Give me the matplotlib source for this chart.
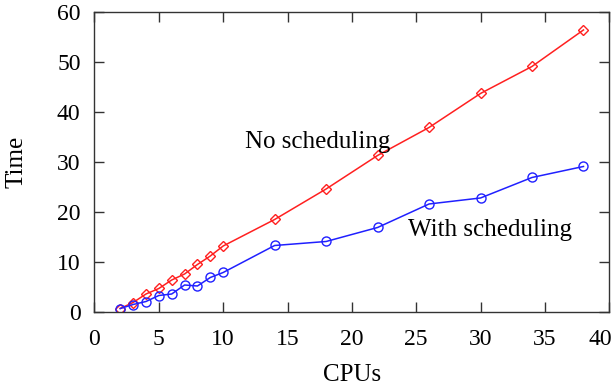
import matplotlib
matplotlib.use("Agg")
import matplotlib.pyplot as plt
from matplotlib.transforms import ScaledTranslation

cpus = [2, 3, 4, 5, 6, 7, 8, 9, 10, 14, 18, 22, 26, 30, 34, 38]
no_sched = [0.7, 1.9, 3.6, 4.7, 6.4, 7.6, 9.5, 11.2, 13.2, 18.5, 24.6, 31.3, 36.9, 43.7, 49.1, 56.4]
with_sched = [0.7, 1.5, 2.1, 3.3, 3.6, 5.4, 5.2, 6.9, 7.9, 13.3, 14.1, 16.9, 21.6, 22.8, 26.9, 29.1]
xticks = [0, 5, 10, 15, 20, 25, 30, 35, 40]
yticks = [0, 10, 20, 30, 40, 50, 60]

plt.rcParams['font.family'] = ['Liberation Serif', 'DejaVu Serif']
fig = plt.figure(figsize=(6.16, 3.85), dpi=100)
ax = fig.add_axes([0.1534, 0.1896, 0.8356, 0.7794])

ax.plot(cpus, no_sched, color='#ff2020', lw=1.1, marker='D', ms=5.5,
        mfc='none', mec='#ff2020', mew=1.0)
ax.plot(cpus, with_sched, color='#2020ff', lw=1.1, marker='o', ms=6.5,
        mfc='none', mec='#2020ff', mew=1.0)

ax.text(11.7, 32.7, 'No scheduling', fontsize=18, va='baseline', ha='left')
ax.text(24.4, 15.2, 'With scheduling', fontsize=18, va='baseline', ha='left')

ax.set_xlim(0, 40)
ax.set_ylim(0, 60)
ax.set_xticks(xticks)
ax.set_yticks(yticks)
ax.tick_params(direction='in', top=True, right=True, length=7, width=1.0,
               labelsize=17, colors='#333333', labelcolor='black')
ax.tick_params(axis='x', pad=12.3)
ax.tick_params(axis='y', pad=10)
for s in ax.spines.values():
    s.set_color('#333333')
    s.set_linewidth(1.0)
ax.set_xlabel('CPUs', fontsize=18)
ax.set_ylabel('Time', fontsize=18)
ax.xaxis.set_label_coords(0.5, -0.21)
ax.yaxis.set_label_coords(-0.151, 0.5)
ax.xaxis.label.set_va('center')
ax.yaxis.label.set_va('center')

fig.canvas.draw()
last = ax.xaxis.get_major_ticks()[-1].label1
last.set_transform(last.get_transform() + ScaledTranslation(-9/100, 0, fig.dpi_scale_trans))

fig.savefig('out.png', dpi=100)
